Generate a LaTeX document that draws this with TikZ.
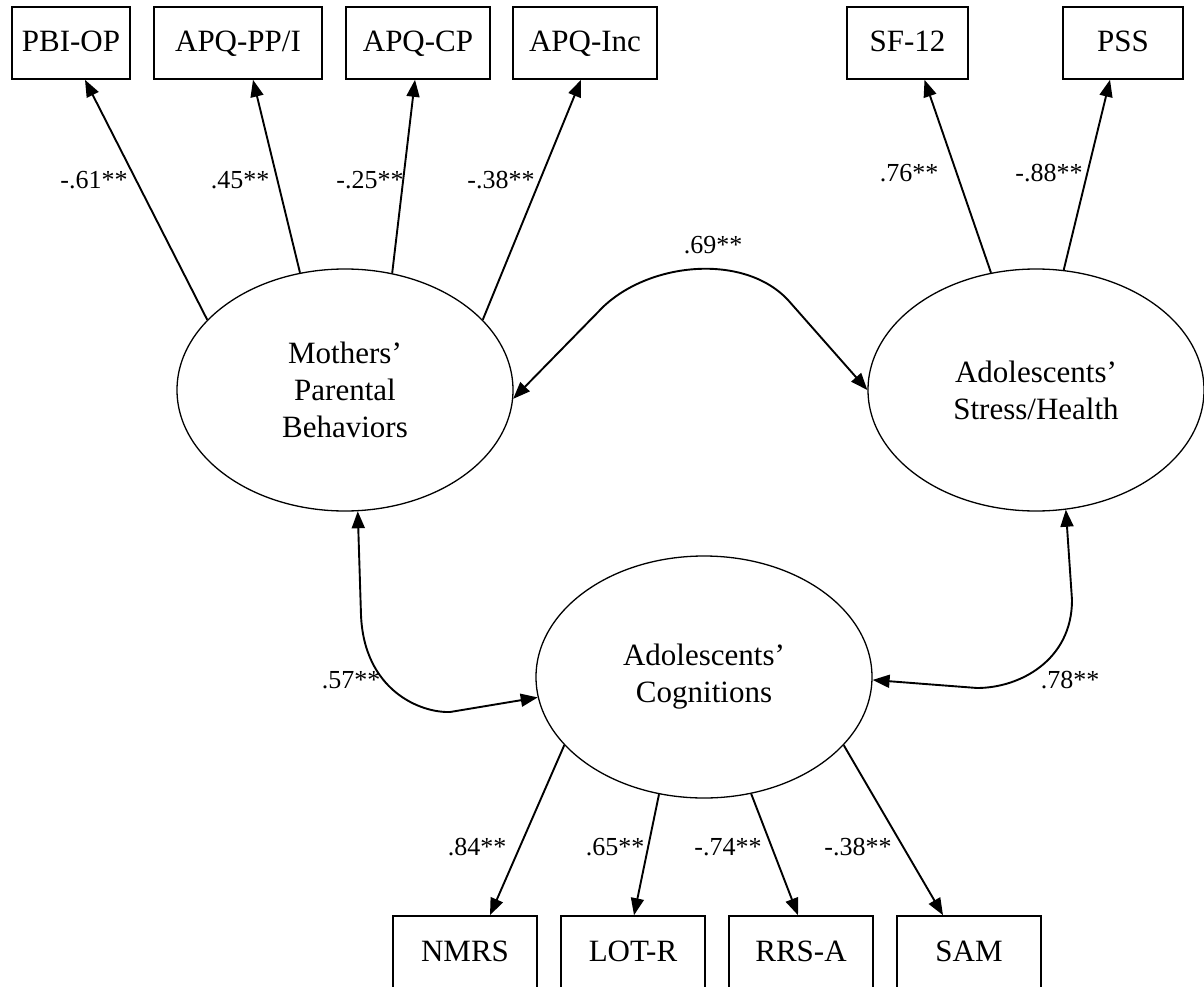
\documentclass[tikz,border=0pt]{standalone}
\usepackage{fontspec}
\setmainfont{Liberation Serif}
\usetikzlibrary{shapes.geometric,arrows.meta}
\begin{document}
\begin{tikzpicture}[x=1pt,y=-1pt,
  obs/.style={draw,line width=1.6pt,minimum height=72pt,inner sep=0pt,text height=24pt,text depth=6pt,font=\fontsize{31}{37}\selectfont},
  lat/.style={draw,ellipse,line width=1.3pt,minimum width=336pt,minimum height=242pt,inner sep=0pt,align=center,font=\fontsize{31}{37}\selectfont},
  load/.style={line width=1.9pt,-{Triangle[length=17pt,width=13pt]}},
  cov/.style={line width=1.9pt,{Triangle[length=17pt,width=13pt]}-{Triangle[length=17pt,width=13pt]}},
  lbl/.style={font=\fontsize{26}{30}\selectfont,inner sep=0pt}]
\useasboundingbox (0,0) rectangle (1204,987);
% top indicators
\node[obs,minimum width=118pt] (pbi) at (71,43) {PBI-OP};
\node[obs,minimum width=168pt] (pp) at (238,43) {APQ-PP/I};
\node[obs,minimum width=144pt] (cp) at (418,43) {APQ-CP};
\node[obs,minimum width=144pt] (inc) at (585,43) {APQ-Inc};
\node[obs,minimum width=121pt] (sf) at (907.5,43) {SF-12};
\node[obs,minimum width=120pt] (pss) at (1123,43) {PSS};
% bottom indicators
\node[obs,minimum width=144pt] (nmrs) at (465,952) {NMRS};
\node[obs,minimum width=144pt] (lot) at (633,952) {LOT-R};
\node[obs,minimum width=144pt] (rrs) at (801,952) {RRS-A};
\node[obs,minimum width=144pt] (sam) at (969,952) {SAM};
% latent variables
\node[lat] (mom) at (345,390) {Mothers’\\Parental\\Behaviors};
\node[lat] (str) at (1036,390) {Adolescents’\\Stress/Health};
\node[lat] (cog) at (704,677) {Adolescents’\\Cognitions};
% loadings
\draw[load] (mom.153) -- ([xshift=14pt]pbi.south);
\draw[load] (mom.111) -- ([xshift=15pt]pp.south);
\draw[load] (mom.68) -- ([xshift=-3pt]cp.south);
\draw[load] (mom.27) -- ([xshift=-4pt]inc.south);
\draw[load] (str.111) -- ([xshift=17pt]sf.south);
\draw[load] (str.77) -- ([xshift=-13pt]pss.south);
\draw[load] (cog.206) -- ([xshift=25pt]nmrs.north);
\draw[load] (cog.249) -- ([xshift=1pt]lot.north);
\draw[load] (cog.292) -- ([xshift=-3pt]rrs.north);
\draw[load] (cog.334) -- ([xshift=-26pt]sam.north);
% covariances
\draw[cov] (mom.-3.5) -- (603,307) .. controls (650,262) and (744,253) .. (788,300) -- (str.180);
\draw[cov] (mom.-84) -- (361,615) .. controls (364,690) and (420,713) .. (450,712) -- (cog.187);
\draw[cov] (str.-76) -- (1072,600) .. controls (1072,660) and (1020,688) .. (977,688) -- (cog.-1);
% labels
\node[lbl] (l1) at (94,180) {-.61**};
\node[lbl] (l2) at (240,180) {.45**};
\node[lbl] (l3) at (370,180) {-.25**};
\node[lbl] (l4) at (501,180) {-.38**};
\node[lbl] (l5) at (909,173) {.76**};
\node[lbl] (l6) at (1049,173) {-.88**};
\node[lbl] (l7) at (713,245) {.69**};
\node[lbl] (l8) at (351,680) {.57**};
\node[lbl] (l9) at (1070,680) {.78**};
\node[lbl] (l10) at (477,847) {.84**};
\node[lbl] (l11) at (615,847) {.65**};
\node[lbl] (l12) at (728,847) {-.74**};
\node[lbl] (l13) at (858,847) {-.38**};
\end{tikzpicture}
\end{document}
